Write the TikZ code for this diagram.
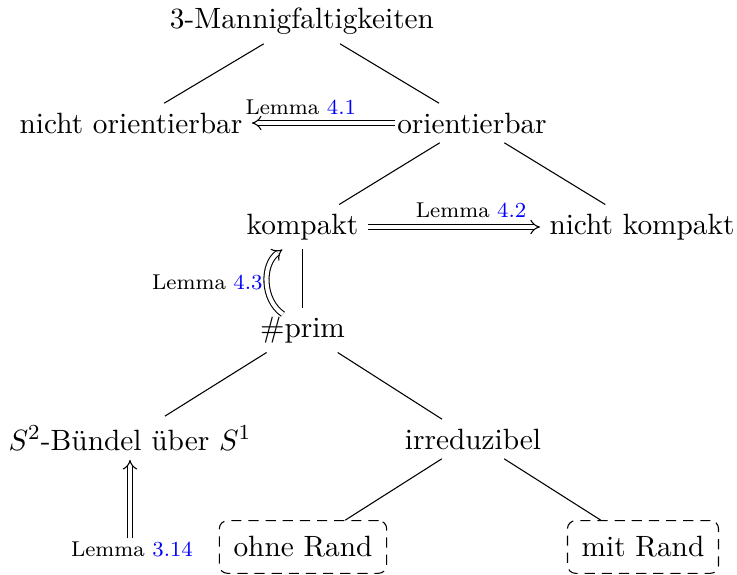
\documentclass[tikz,border=0pt]{standalone}
\usetikzlibrary{arrows.meta}
\begin{document}
\begin{tikzpicture}[x=0.3733pt,y=-0.3733pt,
  every node/.style={font=\fontsize{10.95}{13}\selectfont},
  lbl/.style={font=\footnotesize, inner sep=1pt},
  dbl/.style={double, double distance=1.5pt, -{Implies[length=3.6pt, width=5pt]}},
  boxed/.style={draw, dash pattern=on 3.8pt off 2.6pt, rounded corners=3pt, inner xsep=5.3pt, inner ysep=5.9pt},
  tedge/.style={line width=0.4pt}]
\useasboundingbox (0,0) rectangle (737,575);
\node (root) at (302,21) {3-Mannigfaltigkeiten};
\node (nori) at (131,123) {nicht orientierbar};
\node (ori)  at (472,123) {orientierbar};
\node (kom)  at (302.5,227) {kompakt};
\node (nkom) at (642,227) {nicht kompakt};
\node (prim) at (302.5,330) {\#prim};
\node (s2)   at (130,438) {$S^2$-Bündel über $S^1$};
\node (irr)  at (473,439) {irreduzibel};
\node[boxed] (ohne) at (303,547) {ohne Rand};
\node[boxed] (mit)  at (643,547) {mit Rand};
\node[lbl] (l314) at (132,549) {Lemma \textcolor{blue}{3.14}};

\draw[tedge] (root) -- (nori);
\draw[tedge] (root) -- (ori);
\draw[tedge] (ori) -- (kom);
\draw[tedge] (ori) -- (nkom);
\draw[tedge] (kom) -- (prim);
\draw[tedge] (prim) -- (s2);
\draw[tedge] (prim) -- (irr);
\draw[tedge] (irr) -- (ohne);
\draw[tedge] (irr) -- (mit);

\draw[dbl, shorten <=-2.6pt] (ori.west) -- node[lbl, above=1.8pt, pos=0.64] {Lemma \textcolor{blue}{4.1}} (nori.east);
\draw[dbl] (kom.east) -- node[lbl, above=2.2pt, pos=0.6] {Lemma \textcolor{blue}{4.2}} (nkom.west);
\draw[dbl] ([xshift=-7.3pt, yshift=-2.5pt]prim.north) to[bend left=55] node[lbl, left=0.5pt] {Lemma \textcolor{blue}{4.3}} ([xshift=-7.5pt]kom.south);
\draw[dbl] (s2 |- l314.north) -- (s2.south);
\end{tikzpicture}
\end{document}
